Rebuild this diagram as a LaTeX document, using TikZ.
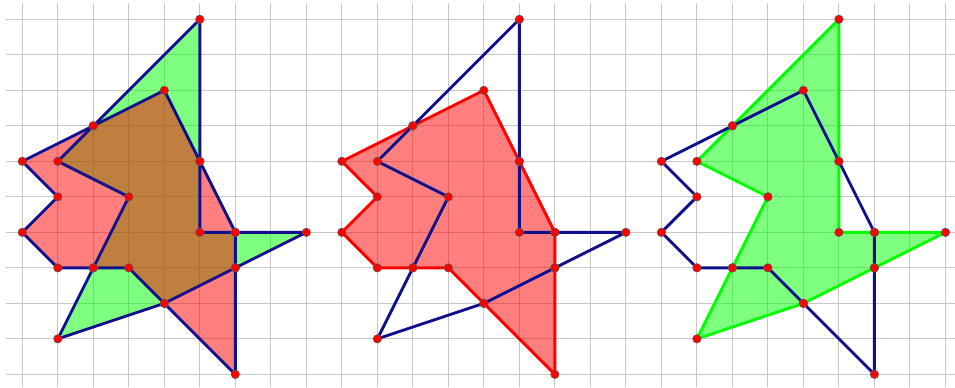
\documentclass[tikz,border=0pt]{standalone}
\usepackage{tikz}
\usetikzlibrary{backgrounds}
\definecolor{edgeblue}{RGB}{16,16,140}
\definecolor{gridgray}{RGB}{200,200,200}

\begin{document}
\begin{tikzpicture}[
  gridln/.style={draw=gridgray, line width=0.8pt},
  pt/.style={circle, fill=red, draw=black!65, line width=0.4pt, inner sep=0pt,
             minimum size=2.4mm},
  edge/.style={draw=edgeblue, line width=2.3pt, line join=round},
  redpoly/.style={fill=red, fill opacity=0.5, draw=red, line width=2.3pt, line join=round},
  greenpoly/.style={fill=green, fill opacity=0.5, draw=green, line width=2.3pt, line join=round},
]
  \useasboundingbox (-0.628,0.544) rectangle (26.27,-10.36);
  % vertices of both shapes, once in each panel
  \foreach \dx/\s in {0/l,9/m,18/r}{
    \begin{scope}[xshift=\dx cm]
      \foreach \p [count=\k] in {(4,-2),(2,-3),(0,-4),(1,-5),(0,-6),(1,-7),(2,-7),
                                 (3,-7),(4,-8),(6,-10),(6,-7),(6,-6),(5,-4)}
        \node[pt] (\s A\k) at \p {};
      \foreach \p [count=\k] in {(5,0),(5,-4),(5,-6),(6,-6),(8,-6),(6,-7),(4,-8),
                                 (1,-9),(2,-7),(3,-5),(1,-4),(2,-3)}
        \node[pt] (\s B\k) at \p {};
    \end{scope}
  }
  \begin{scope}[on background layer]
    % grid
    \fill[white] (-0.628,0.544) rectangle (26.27,-10.36);
    \foreach \x in {0,...,26} \draw[gridln] (\x,0.46) -- (\x,-10.36);
    \foreach \y in {0,...,10} \draw[gridln] (-0.46,-\y) -- (26.27,-\y);
    % left panel: both shapes
    \fill[green, fill opacity=0.5] (lB1.center) \foreach \k in {2,...,12}{-- (lB\k.center)} -- cycle;
    \fill[red, fill opacity=0.5] (lA1.center) \foreach \k in {2,...,13}{-- (lA\k.center)} -- cycle;
    \draw[edge] (lA1.center) \foreach \k in {2,...,13}{-- (lA\k.center)} -- cycle;
    \draw[edge] (lB1.center) \foreach \k in {2,...,12}{-- (lB\k.center)} -- cycle;
    % middle panel: red shape
    \draw[redpoly] (mA1.center) \foreach \k in {2,...,13}{-- (mA\k.center)} -- cycle;
    \draw[edge] (mB1.center) \foreach \k in {2,...,12}{-- (mB\k.center)} -- cycle;
    % right panel: green shape
    \draw[greenpoly] (rB1.center) \foreach \k in {2,...,12}{-- (rB\k.center)} -- cycle;
    \draw[edge] (rA1.center) \foreach \k in {2,...,13}{-- (rA\k.center)} -- cycle;
  \end{scope}
\end{tikzpicture}
\end{document}
